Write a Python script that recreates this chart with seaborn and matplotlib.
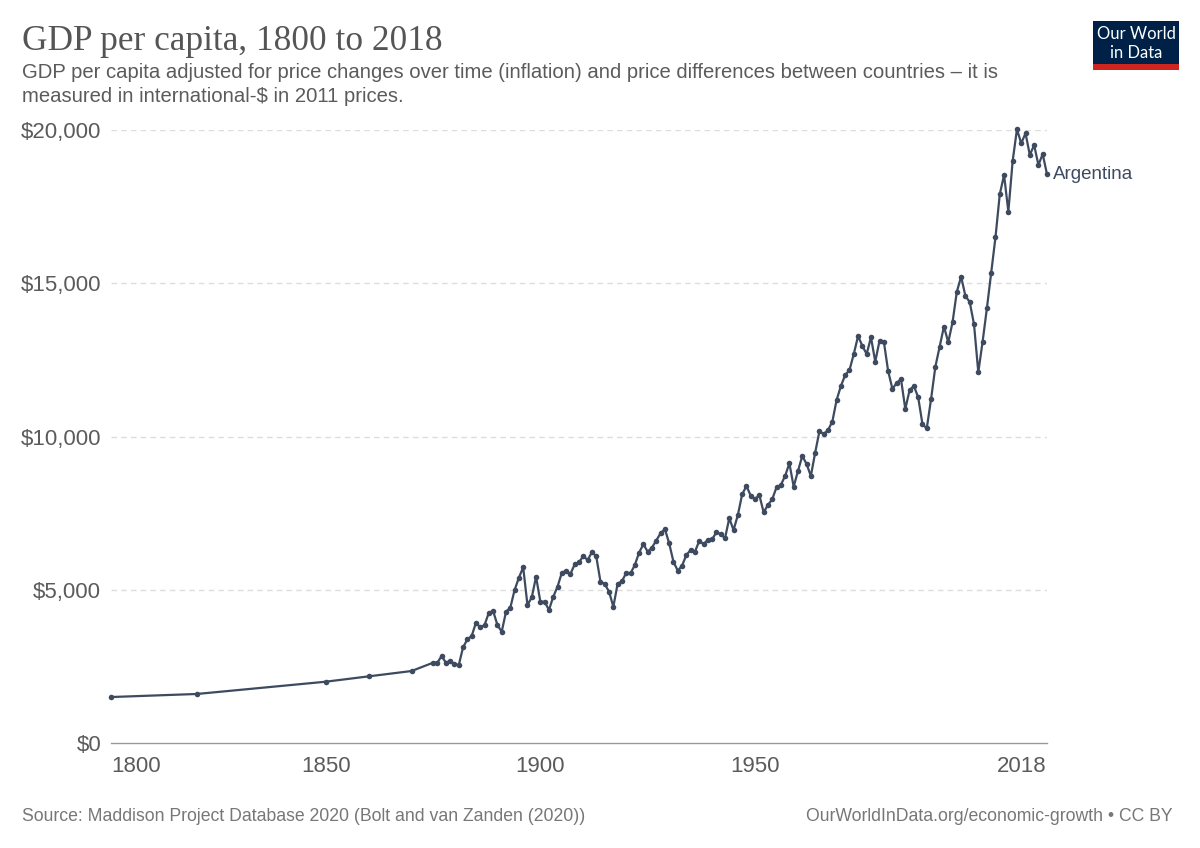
"""
GDP per capita, 1800 to 2018 - Argentina
Line chart recreated in the Our World in Data style
"""

import pandas as pd
import matplotlib.pyplot as plt
from matplotlib.patches import Rectangle
import seaborn as sns

# Data (international-$ in 2011 prices)
years = [1800, 1820, 1850, 1860, 1870] + list(range(1875, 2019))
gdp_early = [1500, 1600, 2000, 2176, 2349]
gdp_1875_1899 = [2620, 2620, 2838, 2620, 2685, 2577, 2545, 3122, 3383, 3491,
                 3925, 3775, 3850, 4251, 4307, 3850, 3631, 4284, 4414, 4992,
                 5393, 5733, 4502, 4754, 5426]
gdp_1900_1949 = [4610, 4610, 4339, 4773, 5099, 5556, 5622, 5514, 5830, 5896,
                 6101, 5971, 6222, 6101, 5269, 5188, 4936, 4447, 5197, 5276,
                 5553, 5537, 5807, 6215, 6486, 6241, 6378, 6607, 6842, 6982,
                 6515, 5915, 5622, 5785, 6134, 6297, 6241, 6590, 6493, 6623,
                 6646, 6874, 6819, 6678, 7331, 6949, 7439, 8114, 8385, 8068]
gdp_1950_1999 = [7961, 8091, 7527, 7765, 7951, 8343, 8418, 8711, 9125, 8362,
                 8874, 9364, 9103, 8711, 9471, 10170, 10081, 10212, 10483, 11191,
                 11648, 12006, 12170, 12692, 13279, 12953, 12692, 13236, 12441, 13126,
                 13093, 12137, 11550, 11755, 11866, 10897, 11517, 11648, 11279, 10398,
                 10267, 11223, 12277, 12930, 13589, 13073, 13729, 14725, 15214, 14584]
gdp_2000_2018 = [14388, 13661, 12095, 13093, 14183, 15344, 16499, 17902, 18532, 17334,
                 18988, 20022, 19566, 19892, 19184, 19510, 18858, 19217, 18555]
gdp = gdp_early + gdp_1875_1899 + gdp_1900_1949 + gdp_1950_1999 + gdp_2000_2018

y_ticks = [0, 5000, 10000, 15000, 20000]
y_labels = ['$0', '$5,000', '$10,000', '$15,000', '$20,000']
x_ticks = [1800, 1850, 1900, 1950, 2018]

df = pd.DataFrame({'Year': years, 'GDP': gdp, 'Country': 'Argentina'})

line_color = '#3d4a5f'
text_grey = '#5b5b5b'

sns.set_style('white')
plt.rcParams['font.family'] = ['Liberation Sans', 'DejaVu Sans']

fig = plt.figure(figsize=(12, 8.48), dpi=100)
ax = fig.add_axes([0.0925, 0.1238, 0.78, 0.7229])

sns.lineplot(data=df, x='Year', y='GDP', ax=ax, color=line_color,
             linewidth=1.6, marker='o', markersize=4, markeredgewidth=0,
             clip_on=False, legend=False)

# Axes
ax.set_xlim(1800, 2018)
ax.set_ylim(0, 20000)
ax.set_xlabel('')
ax.set_ylabel('')
ax.set_yticks(y_ticks)
ax.set_yticklabels(y_labels)
ax.set_xticks(x_ticks)
ax.set_xticklabels([str(t) for t in x_ticks])
ax.tick_params(axis='y', length=0, pad=7, labelsize=16, labelcolor=text_grey)
ax.tick_params(axis='x', length=5, width=1, color='#999999', pad=4,
               labelsize=16, labelcolor=text_grey, direction='out')
xlabels = ax.get_xticklabels()
xlabels[0].set_ha('left')
xlabels[-1].set_ha('right')

for s in ['top', 'right', 'left']:
    ax.spines[s].set_visible(False)
ax.spines['bottom'].set_color('#999999')
ax.spines['bottom'].set_linewidth(1)

for v in y_ticks[1:]:
    ax.axhline(v, color='#dddddd', linewidth=1, linestyle=(0, (4, 3)), zorder=0)

# Series label at the end of the line
ax.text(2019.5, gdp[-1], 'Argentina', fontsize=13.5, color=line_color,
        va='center', ha='left', clip_on=False)

# Title and subtitle
fig.text(0.0183, 0.970, 'GDP per capita, 1800 to 2018', family='Liberation Serif',
         fontsize=25.4, color='#555555', va='top', ha='left')
fig.text(0.0183, 1 - 73 / 848,
         'GDP per capita adjusted for price changes over time (inflation) and price differences between countries \u2013 it is',
         fontsize=14.6, color=text_grey, va='center', ha='left')
fig.text(0.0183, 1 - 97 / 848, 'measured in international-$ in 2011 prices.',
         fontsize=14.6, color=text_grey, va='center', ha='left')

# Footer
fig.text(0.0183, 0.0375, 'Source: Maddison Project Database 2020 (Bolt and van Zanden (2020))',
         fontsize=12.7, color='#777777', va='center', ha='left')
fig.text(0.9775, 0.0375, 'OurWorldInData.org/economic-growth \u2022 CC BY',
         fontsize=12.7, color='#777777', va='center', ha='right')

# Logo
fig.add_artist(Rectangle((0.9108, 0.9242), 0.0717, 0.0514, transform=fig.transFigure,
                         facecolor='#002147', edgecolor='none'))
fig.add_artist(Rectangle((0.9108, 0.9175), 0.0717, 0.0067, transform=fig.transFigure,
                         facecolor='#ce261e', edgecolor='none'))
fig.text(0.9467, 0.960, 'Our World', family='Lato', fontsize=12, color='white',
         ha='center', va='center')
fig.text(0.9467, 0.9375, 'in Data', family='Lato', fontsize=12, color='white',
         ha='center', va='center')

plt.savefig('out.png', dpi=100)
plt.close()
print('Saved out.png')
